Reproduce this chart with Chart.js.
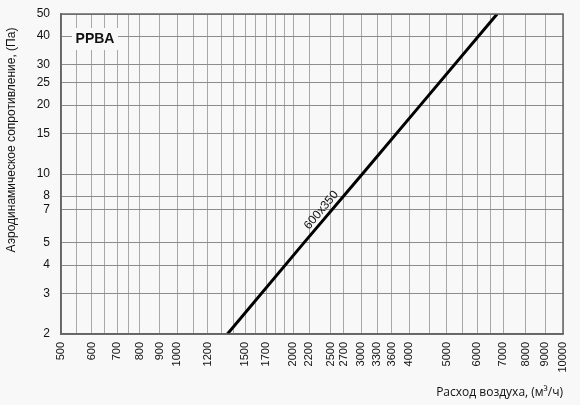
<!DOCTYPE html>
<html>
<head>
<meta charset="utf-8">
<script src="https://cdn.jsdelivr.net/npm/chart.js@4"></script>
<style>
  html, body { margin: 0; padding: 0; background: #f8f8f8; }
  canvas { display: block; }
</style>
</head>
<body>
<canvas id="chart" width="580" height="405"></canvas>
<script>
const flow = [1350, 2130, 3020, 4270, 6750];
const pressure = [2, 5, 10, 20, 50];

// Vertical grid lines and the ones that get a label
const xGridValues = [500, 550, 600, 650, 700, 750, 800, 900, 1000, 1100, 1200, 1300, 1400,
  1500, 1600, 1700, 1800, 1900, 2000, 2200, 2500, 2700, 3000, 3300, 3600, 4000, 4500,
  5000, 5500, 6000, 6500, 7000, 8000, 9000, 10000];
const xTickLabels = [500, 600, 700, 800, 900, 1000, 1200, 1500, 1700, 2000, 2200, 2500,
  2700, 3000, 3300, 3600, 4000, 5000, 6000, 7000, 8000, 9000, 10000];
const yTickLabels = [2, 3, 4, 5, 7, 8, 10, 15, 20, 25, 30, 40, 50];

const seriesName = "600x350";
const chartTitle = "PPBA";
const xTitle = "Расход воздуха, (м³/ч)";
const yTitle = "Аэродинамическое сопротивление, (Па)";

const BG = "#f8f8f8";

// Frame, product name box, curve label and axis titles
const decorations = {
  id: "decorations",
  afterDatasetsDraw(chart) {
    const ctx = chart.ctx;
    const area = chart.chartArea;
    const xs = chart.scales.x;
    const ys = chart.scales.y;

    ctx.save();
    ctx.strokeStyle = "#666";
    ctx.lineWidth = 1.5;
    ctx.strokeRect(area.left, area.top, area.right - area.left, area.bottom - area.top);

    // product name with a background patch over the grid
    ctx.fillStyle = BG;
    ctx.fillRect(area.left + 11, area.top + 14, 46, 22);
    ctx.fillStyle = "#111";
    ctx.font = "bold 14px 'Liberation Sans', Arial, sans-serif";
    ctx.textAlign = "center";
    ctx.textBaseline = "middle";
    ctx.fillText(chartTitle, area.left + 34, area.top + 25);

    // label along the curve
    const x0 = xs.getPixelForValue(flow[0]);
    const y0 = ys.getPixelForValue(pressure[0]);
    const x1 = xs.getPixelForValue(flow[flow.length - 1]);
    const y1 = ys.getPixelForValue(pressure[pressure.length - 1]);
    const angle = Math.atan2(y1 - y0, x1 - x0);
    const px = xs.getPixelForValue(2452);
    const py = ys.getPixelForValue(6.6);
    ctx.translate(px, py);
    ctx.rotate(angle);
    ctx.font = "12px 'Liberation Sans', Arial, sans-serif";
    ctx.fillText(seriesName, 0, -8);
    ctx.restore();

    // axis titles
    ctx.save();
    ctx.fillStyle = "#111";
    ctx.font = "12px 'Open Sans', sans-serif";
    ctx.textAlign = "right";
    ctx.textBaseline = "middle";
    ctx.fillText(xTitle, area.right, 393);

    ctx.font = "12px 'Liberation Sans', Arial, sans-serif";
    ctx.textAlign = "center";
    ctx.translate(12, 140);
    ctx.rotate(-Math.PI / 2);
    ctx.fillText(yTitle, 0, 0);
    ctx.restore();
  }
};

const ctx = document.getElementById("chart").getContext("2d");
new Chart(ctx, {
  type: "line",
  data: {
    datasets: [{
      label: seriesName,
      data: flow.map((q, i) => ({ x: q, y: pressure[i] })),
      borderColor: "#000",
      borderWidth: 3,
      pointRadius: 0,
      tension: 0
    }]
  },
  options: {
    responsive: false,
    animation: false,
    layout: { padding: { top: 14, right: 17, left: 0, bottom: 0 } },
    plugins: {
      legend: { display: false },
      tooltip: { enabled: false }
    },
    scales: {
      x: {
        type: "logarithmic",
        min: 500,
        max: 10000,
        afterBuildTicks: (scale) => { scale.ticks = xGridValues.map((v) => ({ value: v })); },
        afterFit: (scale) => {
          scale.height = 71;
          scale.paddingLeft = 0;
          scale.paddingRight = 0;
        },
        ticks: {
          autoSkip: false,
          minRotation: 90,
          maxRotation: 90,
          padding: 8,
          color: "#111",
          font: { family: "'Liberation Sans', Arial, sans-serif", size: 11 },
          callback: (v) => (xTickLabels.includes(v) ? String(v) : "")
        },
        grid: { color: "#a8a8a8", lineWidth: 1, drawTicks: false },
        border: { color: "#666", width: 1.5 }
      },
      y: {
        type: "logarithmic",
        min: 2,
        max: 50,
        afterBuildTicks: (scale) => { scale.ticks = yTickLabels.map((v) => ({ value: v })); },
        afterFit: (scale) => {
          scale.width = 61;
          scale.paddingTop = 0;
          scale.paddingBottom = 0;
        },
        ticks: {
          autoSkip: false,
          padding: 11,
          color: "#111",
          font: { family: "'Liberation Sans', Arial, sans-serif", size: 12 },
          callback: (v) => String(v)
        },
        grid: { color: "#8c8c8c", lineWidth: 1, drawTicks: false },
        border: { color: "#666", width: 1.5 }
      }
    }
  },
  plugins: [decorations]
});
</script>
</body>
</html>
